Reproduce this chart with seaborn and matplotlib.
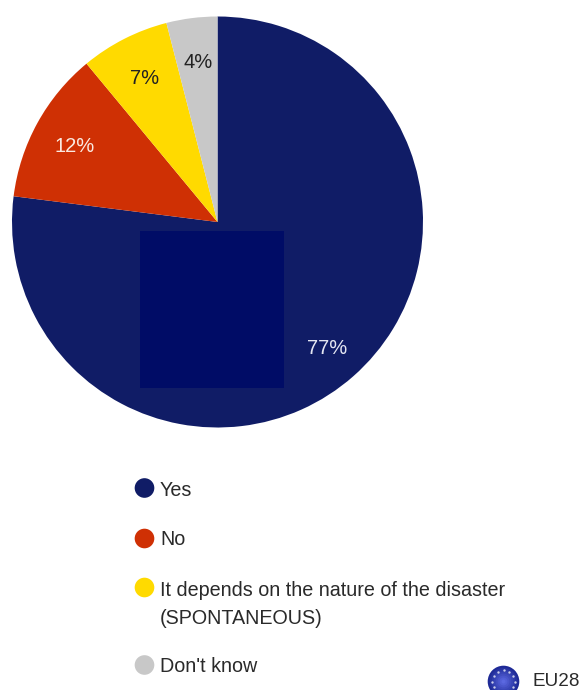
"""
Pie chart: share of answers for EU28, legend in a column under the pie.
"""

import numpy as np
import pandas as pd
import matplotlib
matplotlib.use("Agg")
import matplotlib.pyplot as plt
from matplotlib.patches import Rectangle, Circle
import seaborn as sns

WIDTH, HEIGHT = 581, 690

categories = ["Yes", "No", "It depends on the nature of the disaster\n(SPONTANEOUS)", "Don't know"]
values = [77, 12, 7, 4]
value_labels = ["77%", "12%", "7%", "4%"]
colors = ["#101C66", "#CF3004", "#FFDA00", "#C8C8C8"]
label_colors = ["#E4E6F2", "#FBE9E0", "#222222", "#222222"]

# pixel positions measured on the picture (y from the top)
label_x = [327, 75, 145, 198]
label_y = [349, 146, 78, 62]
legend_y = [488, 538.5, 587.5, 665]
legend_text_y = [490, 539.5, 604.5, 666]

sns.set_theme(style="white")
plt.rcParams["font.family"] = ["Liberation Sans", "DejaVu Sans"]

fig = plt.figure(figsize=(WIDTH / 100, HEIGHT / 100), dpi=100, facecolor="white")

# Pie
cx, cy, radius = 217.5, 222, 205.5
ax = fig.add_axes([(cx - radius) / WIDTH, 1 - (cy + radius) / HEIGHT,
                   2 * radius / WIDTH, 2 * radius / HEIGHT])
ax.pie(values, colors=colors, startangle=90, counterclock=False, radius=1,
       wedgeprops={"edgecolor": "none", "linewidth": 0})
ax.set_xlim(-1, 1)
ax.set_ylim(-1, 1)
ax.set_axis_off()

# Overlay in pixel coordinates for everything else
over = fig.add_axes([0, 0, 1, 1], facecolor="none")
over.add_patch(Rectangle((140, 231), 144, 157, facecolor="#000C66", edgecolor="none"))

for x, y, text, col in zip(label_x, label_y, value_labels, label_colors):
    over.text(x, y, text, color=col, fontsize=14.5, ha="center", va="center")

# Legend
legend_df = pd.DataFrame({"x": [144.5] * len(categories), "y": legend_y, "cat": categories})
sns.scatterplot(data=legend_df, x="x", y="y", hue="cat", palette=colors, s=200,
                linewidth=0, legend=False, ax=over)
over.set_xlim(0, WIDTH)
over.set_ylim(HEIGHT, 0)
over.set_axis_off()

for y, text in zip(legend_text_y, categories):
    over.text(160, y, text, color="#2A2A2A", fontsize=14.2, ha="left", va="center",
              linespacing=1.6)

# EU emblem, cut by the lower edge like in the source
ex, ey, er = 503.5, 681.5, 15.8
for r, col in zip(np.linspace(er, 2, 8), sns.blend_palette(["#1E2A96", "#5B68E0"], 8)):
    over.add_patch(Circle((ex, ey), r, facecolor=col, edgecolor="none"))
angles = np.deg2rad(np.arange(0, 360, 30))
over.scatter(ex + 11.5 * np.cos(angles), ey + 11.5 * np.sin(angles), s=3, color="#C8CCE8",
             linewidths=0)
over.text(533, 682, "EU28", color="#2A2A2A", fontsize=13.6, ha="left", va="center")

fig.savefig("out.png", dpi=100)
